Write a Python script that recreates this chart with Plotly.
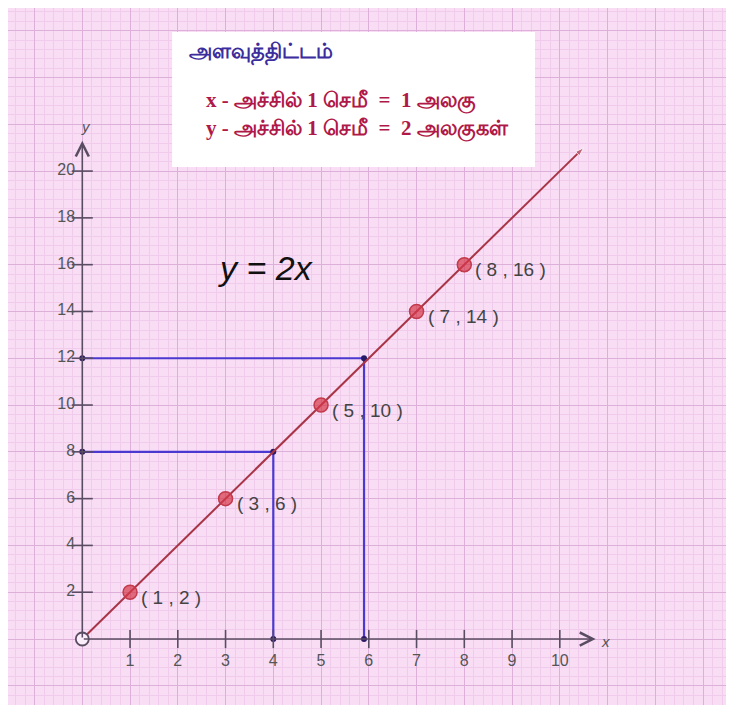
import plotly.graph_objects as go

# points marked on the line y = 2x
pt_x = [1, 3, 5, 7, 8]
pt_y = [2, 6, 10, 14, 16]
pt_labels = ["( 1 , 2 )", "( 3 , 6 )", "( 5 , 10 )", "( 7 , 14 )", "( 8 , 16 )"]

# the drawn line (start / end)
line_x = [0, 10.5]
line_y = [0, 21]

# read-off guides (blue)
guide_x = [4, 5.9]
guide_y = [8, 12]

x_ticks = [1, 2, 3, 4, 5, 6, 7, 8, 9, 10]
y_ticks = [2, 4, 6, 8, 10, 12, 14, 16, 18, 20]

scale_title = "அளவுத்திட்டம்"
scale_lines = ["x - அச்சில் 1 செமீ  =  1 அலகு", "y - அச்சில் 1 செமீ  =  2 அலகுகள்"]

BG = "#f8ddf5"
GRID_MAJOR = "#ddb0d9"
GRID_MINOR = "#f0cbec"
AXIS = "#5a4c62"
RED_LINE = "#a83446"
BLUE = "#4a38d0"
NAVY = "#2a1a66"
TXT = "#444444"

fig = go.Figure()

# blue guide lines
for gx, gy in zip(guide_x, guide_y):
    fig.add_trace(go.Scatter(
        x=[0, gx, gx], y=[gy, gy, 0], mode="lines+markers",
        line=dict(color=BLUE, width=2.2),
        marker=dict(color=NAVY, size=6),
        showlegend=False, hoverinfo="skip",
    ))

# the line y = 2x
fig.add_trace(go.Scatter(
    x=line_x, y=line_y, mode="lines+markers",
    line=dict(color=RED_LINE, width=2),
    marker=dict(symbol="arrow", angleref="previous", size=[0, 9], color=RED_LINE),
    showlegend=False, hoverinfo="skip",
))

# axis tick marks
fig.add_trace(go.Scatter(
    x=x_ticks, y=[0] * len(x_ticks), mode="markers",
    marker=dict(symbol="line-ns", size=13, line=dict(color=AXIS, width=1.6)),
    showlegend=False, hoverinfo="skip",
))
fig.add_trace(go.Scatter(
    x=[0] * len(y_ticks), y=y_ticks, mode="markers",
    marker=dict(symbol="line-ew", size=15, line=dict(color=AXIS, width=1.6)),
    showlegend=False, hoverinfo="skip",
))

# tick labels
fig.add_trace(go.Scatter(
    x=x_ticks, y=[-1.0] * len(x_ticks), mode="text",
    text=[str(v) for v in x_ticks], textposition="middle center",
    textfont=dict(family="Liberation Sans, Arial", size=16, color="#555555"),
    showlegend=False, hoverinfo="skip",
))
fig.add_trace(go.Scatter(
    x=[-0.15] * len(y_ticks), y=y_ticks, mode="text",
    text=[str(v) for v in y_ticks], textposition="middle left",
    textfont=dict(family="Liberation Sans, Arial", size=16, color="#555555"),
    showlegend=False, hoverinfo="skip",
))

# origin
fig.add_trace(go.Scatter(
    x=[0], y=[0], mode="markers",
    marker=dict(symbol="circle", size=13, color="#fbeefa", line=dict(color=AXIS, width=1.8)),
    showlegend=False, hoverinfo="skip",
))

# marked points
fig.add_trace(go.Scatter(
    x=pt_x, y=pt_y, mode="markers",
    marker=dict(size=14, color="rgba(214,56,72,0.7)", line=dict(color="#c23a4c", width=1.5)),
    showlegend=False, hoverinfo="skip",
))

for px, py, lab in zip(pt_x, pt_y, pt_labels):
    fig.add_annotation(
        x=px, y=py, text=lab, showarrow=False, xanchor="left", yanchor="middle",
        xshift=9, yshift=-5,
        font=dict(family="Liberation Sans, Arial", size=19, color=TXT),
    )

# axes with open arrowheads
fig.add_annotation(x=10.75, y=0, ax=0, ay=0, xref="x", yref="y", axref="x", ayref="y",
                   text="", showarrow=True, arrowhead=5, arrowsize=1.6, arrowwidth=1.6,
                   arrowcolor=AXIS)
fig.add_annotation(x=0, y=21.3, ax=0, ay=0, xref="x", yref="y", axref="x", ayref="y",
                   text="", showarrow=True, arrowhead=5, arrowsize=1.6, arrowwidth=1.6,
                   arrowcolor=AXIS)
fig.add_annotation(x=10.82, y=-0.1, text="<i>x</i>", showarrow=False, xanchor="left",
                   font=dict(family="Liberation Sans, Arial", size=15, color="#555555"))
fig.add_annotation(x=0.08, y=21.9, text="<i>y</i>", showarrow=False,
                   font=dict(family="Liberation Sans, Arial", size=15, color="#555555"))

# equation
fig.add_annotation(x=3.83, y=15.85, text="<i>y = 2x</i>", showarrow=False,
                   font=dict(family="Liberation Sans, Arial", size=34, color="#111111"))

# scale box
fig.add_shape(type="rect", x0=1.88, x1=9.48, y0=20.17, y1=25.94, xref="x", yref="y",
              fillcolor="white", line=dict(width=0), layer="above")
fig.add_annotation(x=2.2, y=25.15, text="<b>" + scale_title + "</b>", showarrow=False,
                   xanchor="left", font=dict(family="Noto Sans, Liberation Sans", size=21, color="#3b2d9c"))
fig.add_annotation(x=2.55, y=23.0, text="<b>" + scale_lines[0] + "</b>", showarrow=False,
                   xanchor="left", font=dict(family="Liberation Serif, Noto Sans", size=21, color="#b01848"))
fig.add_annotation(x=2.55, y=21.8, text="<b>" + scale_lines[1] + "</b>", showarrow=False,
                   xanchor="left", font=dict(family="Liberation Serif, Noto Sans", size=21, color="#b01848"))

fig.update_xaxes(
    range=[-1.556, 13.648], tick0=0, dtick=1, showticklabels=False, ticks="",
    showgrid=True, gridcolor=GRID_MAJOR, gridwidth=1.4, zeroline=False, showline=False,
    minor=dict(tick0=0, dtick=0.2, showgrid=True, gridcolor=GRID_MINOR, gridwidth=1),
    fixedrange=True,
)
fig.update_yaxes(
    range=[-2.82, 26.97], tick0=0, dtick=2, showticklabels=False, ticks="",
    showgrid=True, gridcolor=GRID_MAJOR, gridwidth=1.4, zeroline=False, showline=False,
    minor=dict(tick0=0, dtick=0.4, showgrid=True, gridcolor=GRID_MINOR, gridwidth=1),
    fixedrange=True,
)

# page body keeps its 8px margin, so the figure is sized to what remains of the window
fig.update_layout(
    width=726, height=704,
    margin=dict(l=0, r=0, t=0, b=7, pad=0),
    paper_bgcolor="white", plot_bgcolor=BG,
    showlegend=False,
)

fig.write_html("out.html")
